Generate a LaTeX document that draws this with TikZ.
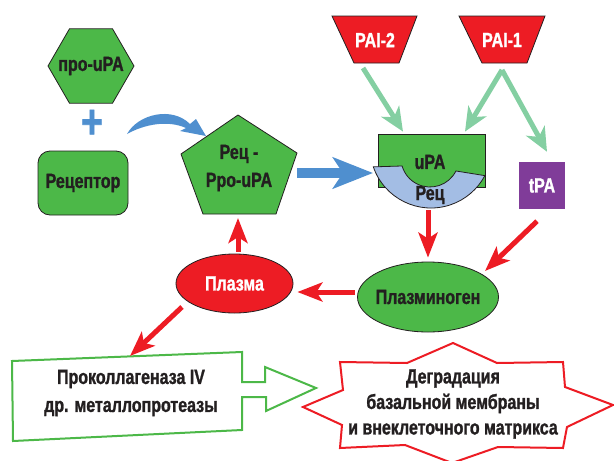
\documentclass[tikz,border=0pt]{standalone}
\usepackage{fontspec}
\setmainfont{Liberation Sans}[FakeStretch=0.78, BoldFeatures={FakeBold=1.2}]
\usetikzlibrary{arrows.meta,shapes.geometric}

\definecolor{cellgreen}{RGB}{76,184,72}
\definecolor{pared}{RGB}{237,28,36}
\definecolor{flowblue}{RGB}{79,143,207}
\definecolor{inhibgreen}{RGB}{132,207,162}
\definecolor{tpapurple}{RGB}{128,60,153}
\definecolor{recblue}{RGB}{163,189,228}
\definecolor{inkdark}{RGB}{35,31,32}

\tikzset{
  lbl/.style={font=\fontsize{20.5}{28}\selectfont\bfseries, text=inkdark, align=center},
  shp/.style={draw=inkdark, line width=0.8pt, fill=cellgreen},
  redarr/.style={draw=pared, line width=5pt, -{Stealth[length=25pt,width=19pt,inset=6pt]}},
  inharr/.style={draw=inhibgreen, line width=5pt, -{Stealth[length=24pt,width=21pt,inset=7pt]}},
  bluearr/.style={draw=flowblue, line width=10pt, -{Stealth[length=40pt,width=31pt,inset=10pt]}},
}

\begin{document}
\begin{tikzpicture}[x=1pt,y=-1pt]
  \useasboundingbox (0,0) rectangle (614,461);
  % pro-uPA + receptor
  \node[shp, lbl, regular polygon, regular polygon sides=6, minimum size=86pt, inner sep=0pt] (prou) at (91,66) {\makebox[0pt]{про-uPA}};
  \node[lbl, text=flowblue, font=\fontsize{48}{48}\selectfont\bfseries] (plus) at (92,124) {+};
  \node[shp, lbl, rounded corners=12pt, minimum width=90pt, minimum height=64pt] (rcp) at (83,183) {Рецептор};
  \fill[flowblue] (127,134) .. controls (138,114) and (172,106) .. (190,124) -- (196,119) -- (206,136)
    -- (180,131) -- (186,128) .. controls (168,120) and (145,124) .. cycle;
  % receptor-bound pro-uPA
  \draw[shp] (238,115) -- (297,153) -- (276,214) -- (203,214) -- (181,154) -- cycle;
  \node[lbl] (rpu) at (239,168) {Рец -\\Рро-uPA};
  \coordinate (rp-e) at (297,173);
  \coordinate (rp-s) at (238,214);
  % uPA on receptor
  \node[shp, minimum width=107pt, minimum height=53pt] (upa) at (431.5,160.5) {};
  \draw[draw=inkdark, line width=0.8pt, fill=recblue] (431,147) ++(161:61)
    arc[start angle=161, end angle=28, radius=61]
    -- ([shift={(26.6:29)}]430,158) arc[start angle=26.6, end angle=164, radius=29] -- cycle;
  \node[lbl] (upa-t) at (430,162) {uPA};
  \node[lbl] (rec) at (430,195) {Рец};
  \coordinate (bnd-w) at (373,173);
  \coordinate (bnd-s) at (428,210);
  \draw[bluearr] (rp-e) -- (bnd-w);
  % inhibitors
  \draw[shp, fill=pared] (332,16) -- (417,16) -- (399,63) -- (354,63) -- cycle;
  \draw[shp, fill=pared] (459,16) -- (545,16) -- (527,63) -- (482,63) -- cycle;
  \node[lbl, text=white] (pai2) at (375,40) {PAI-2};
  \node[lbl, text=white] (pai1) at (502,40) {PAI-1};
  \node[fill=tpapurple, lbl, text=white, minimum width=46pt, minimum height=47pt] (tpa) at (542,185.5) {tPA};
  \draw[inharr] ([xshift=-12pt,yshift=-28pt]pai2.center) -- ([xshift=-28.5pt,yshift=2pt]upa.north);
  \draw[inharr] ([yshift=-30pt]pai1.center) -- ([xshift=33.5pt,yshift=2pt]upa.north);
  \draw[inharr] ([yshift=-30pt]pai1.center) -- ([xshift=5pt,yshift=10pt]tpa.north);
  % plasminogen -> plasmin
  \node[shp, lbl, ellipse, minimum width=141pt, minimum height=70pt, inner sep=0pt] (plg) at (428,297) {\makebox[0pt]{Плазминоген}};
  \node[shp, lbl, ellipse, fill=pared, text=white, minimum width=117pt, minimum height=59pt, inner sep=0pt] (plasma) at (234.5,283.5) {Плазма};
  \draw[redarr] (bnd-s) -- ([yshift=4pt]plg.north);
  \draw[redarr] ([xshift=-5pt,yshift=-12pt]tpa.south) -- ([xshift=57pt,yshift=26pt]plg.center);
  \draw[redarr] ([xshift=-2pt,yshift=5pt]plg.west) -- ([xshift=4pt,yshift=-8.5pt]plasma.east);
  \draw[redarr] ([xshift=3.5pt,yshift=2pt]plasma.north) -- ([yshift=-4pt]rp-s);
  % targets
  \draw[draw=cellgreen, line width=2pt, fill=white] (12,361) -- (242,352) -- (242,382) -- (265,382) -- (265,367)
    -- (316,388) -- (266,411) -- (266,397) -- (242,397) -- (242,430) -- (13,441) -- cycle;
  \node[lbl] (pk) at (131,393) {Проколлагеназа IV\\др. металлопротеазы};
  \coordinate (pk-top) at (130,356);
  \draw[redarr] ([xshift=-52.5pt,yshift=-23.5pt]plasma.center) -- (pk-top);
  \draw[draw=pared, line width=2pt, fill=white] (453,343) -- (497,363) -- (563,362) -- (565,387) -- (613,405)
    -- (567,427) -- (563,448) -- (498,447) -- (452,463) -- (405,445) -- (340,448) -- (342,425) -- (303,407)
    -- (343,390) -- (340,362) -- (407,363) -- cycle;
  \node[lbl, font=\fontsize{20.5}{25.5}\selectfont\bfseries] (deg) at (453,404) {Деградация\\базальной мембраны\\и внеклеточного матрикса};
\end{tikzpicture}
\end{document}
